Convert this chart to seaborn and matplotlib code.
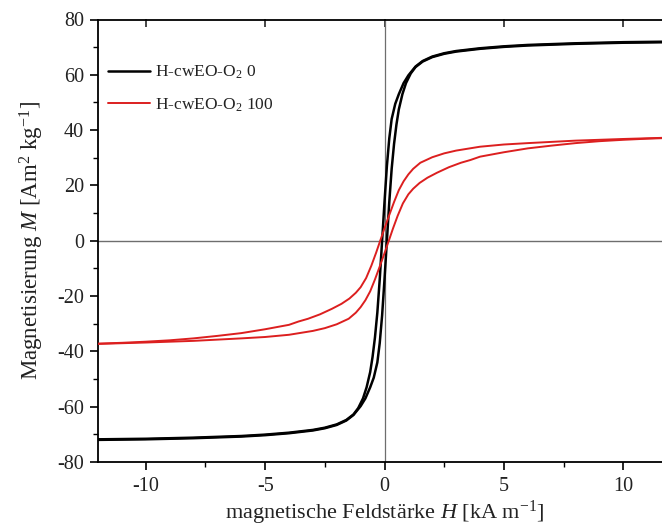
import numpy as np
import pandas as pd
import matplotlib
matplotlib.use("Agg")
import matplotlib.pyplot as plt
from matplotlib.ticker import MultipleLocator
import seaborn as sns

# ---- data ----
series_labels = ["H-cwEO-O$_2$ 0", "H-cwEO-O$_2$ 100"]
series_colors = ["#000000", "#dc1f1f"]

# black: descending branch (from +H to -H)
H_bd = [12, 10, 8, 6, 5, 4, 3, 2.5, 2, 1.6, 1.3, 1.0, 0.8, 0.6, 0.45, 0.3, 0.2, 0.1, 0.0,
        -0.1, -0.2, -0.3, -0.4, -0.5, -0.6, -0.75, -0.9, -1.1, -1.3, -1.6, -2, -2.5, -3,
        -4, -5, -6, -8, -10, -12]
M_bd = [72.0, 71.8, 71.4, 70.8, 70.3, 69.6, 68.6, 67.8, 66.6, 65.0, 63.0, 59.8, 57.0, 53.0,
        49.5, 44.0, 37.0, 27.0, 14.0, 0, -14, -26, -35, -42, -47.5, -53, -57, -60.5, -62.8,
        -64.8, -66.4, -67.6, -68.4, -69.4, -70.1, -70.6, -71.2, -71.6, -71.8]
# black: ascending branch (from -H to +H)
H_ba = [-12, -10, -8, -6, -5, -4, -3, -2.5, -2, -1.6, -1.3, -1.0, -0.8, -0.6, -0.45, -0.3,
        -0.2, -0.1, 0.0, 0.1, 0.2, 0.3, 0.4, 0.5, 0.6, 0.75, 0.9, 1.1, 1.3, 1.6, 2, 2.5, 3,
        4, 5, 6, 8, 10, 12]
M_ba = [-72.0, -71.8, -71.4, -70.8, -70.3, -69.6, -68.6, -67.8, -66.6, -65.0, -63.0, -59.8,
        -57.0, -53.0, -49.5, -44.0, -37.0, -27.0, -14.0, 0, 14, 26, 35, 42, 47.5, 53, 57,
        60.5, 62.8, 64.8, 66.4, 67.6, 68.4, 69.4, 70.1, 70.6, 71.2, 71.6, 71.8]

# red: ascending branch
H_ra = [-12, -10, -8, -6, -5, -4, -3, -2.5, -2, -1.5, -1.2, -1.0, -0.8, -0.6, -0.4, -0.2,
        0.0, 0.18, 0.35, 0.55, 0.77, 1.0, 1.2, 1.47, 1.8, 2.2, 2.7, 3.2, 3.6, 4, 5, 6, 7, 8,
        9, 10, 11, 12]
M_ra = [-37.3, -36.8, -36.2, -35.3, -34.8, -34.0, -32.6, -31.6, -30.2, -28.2, -26.0, -24.0,
        -21.5, -18.3, -14.0, -9.3, -4.5, 0, 4.3, 9.0, 13.5, 16.8, 18.8, 20.9, 22.8, 24.6,
        26.6, 28.2, 29.2, 30.4, 32.0, 33.4, 34.4, 35.3, 36.0, 36.5, 36.9, 37.2]
# red: descending branch
H_rd = [12, 10, 8, 6, 5, 4, 3, 2.5, 2, 1.5, 1.2, 1.0, 0.8, 0.6, 0.4, 0.2, 0.0, -0.18, -0.35,
        -0.55, -0.77, -1.0, -1.2, -1.47, -1.8, -2.2, -2.7, -3.2, -3.6, -4, -5, -6, -7, -8,
        -9, -10, -11, -12]
M_rd = [37.3, 36.8, 36.2, 35.3, 34.8, 34.0, 32.6, 31.6, 30.2, 28.2, 26.0, 24.0, 21.5, 18.3,
        14.0, 9.3, 4.5, 0, -4.3, -9.0, -13.5, -16.8, -18.8, -20.9, -22.8, -24.6, -26.6, -28.2,
        -29.2, -30.4, -32.0, -33.4, -34.4, -35.3, -36.0, -36.5, -36.9, -37.2]

x_ticks = [-10, -5, 0, 5, 10]
y_ticks = [-80, -60, -40, -20, 0, 20, 40, 60, 80]

# ---- build table ----
frames = []
for lab, branches in [(series_labels[0], [("d", H_bd, M_bd), ("a", H_ba, M_ba)]),
                      (series_labels[1], [("d", H_rd, M_rd), ("a", H_ra, M_ra)])]:
    for br, h, m in branches:
        frames.append(pd.DataFrame({"H": h, "M": m, "sample": lab, "branch": br}))
df = pd.concat(frames, ignore_index=True)

sns.set_style("ticks")
plt.rcParams["font.family"] = ["Liberation Serif", "DejaVu Serif"]
plt.rcParams["mathtext.fontset"] = "custom"
plt.rcParams["mathtext.rm"] = "Liberation Serif"
plt.rcParams["mathtext.it"] = "Liberation Serif:italic"
plt.rcParams["axes.unicode_minus"] = False

fig = plt.figure(figsize=(6.62, 5.28), dpi=100)
W, Hpx = 662, 528
ax = fig.add_axes([98 / W, 1 - 462 / Hpx, (671 - 98) / W, (462 - 19.5) / Hpx])

ax.axhline(0, color="#6e6e6e", lw=1.0, zorder=1)
ax.axvline(0, color="#6e6e6e", lw=0.9, zorder=1)

lws = {series_labels[0]: 1.8, series_labels[1]: 1.4}
for i, lab in enumerate(series_labels):
    for br in ["d", "a"]:
        sub = df[(df["sample"] == lab) & (df["branch"] == br)]
        sns.lineplot(data=sub, x="H", y="M", sort=False, estimator=None, ax=ax,
                     color=series_colors[i], lw=lws[lab],
                     label=lab if br == "d" else None, zorder=3)

ax.set_xlim(-12, 12)
ax.set_ylim(-80, 80)
ax.set_xticks(x_ticks)
ax.set_yticks(y_ticks)
ax.xaxis.set_minor_locator(MultipleLocator(2.5))
ax.yaxis.set_minor_locator(MultipleLocator(10))
ax.tick_params(which="major", direction="out", length=6, width=1.2, labelsize=14.5,
               color="black", labelcolor="#222222", pad=4)
ax.tick_params(axis="x", which="major", pad=5)
ax.tick_params(which="minor", direction="out", length=3.5, width=1.0, color="black")
for s in ["left", "bottom", "top"]:
    ax.spines[s].set_linewidth(1.3)
    ax.spines[s].set_color("black")
ax.spines["right"].set_visible(False)

sec = ax.secondary_xaxis("top")
sec.set_xticks(x_ticks)
sec.tick_params(direction="in", length=6, width=1.2, labeltop=False)
sec.spines["top"].set_visible(False)

ax.set_xlabel("magnetische Feldstärke $H$ [kA m$^{-1}$]", fontsize=16, color="#222222",
              labelpad=2)
ax.set_ylabel("Magnetisierung $M$ [Am$^2$ kg$^{-1}$]", fontsize=16.5, color="#222222",
              labelpad=8)

leg = ax.legend(loc="upper left", bbox_to_anchor=(108 / W, 1 - 64 / Hpx),
                bbox_transform=fig.transFigure, frameon=False, fontsize=12.5,
                handlelength=2.4, handletextpad=0.3, labelspacing=0.85, borderpad=0,
                borderaxespad=0)
for t in leg.get_texts():
    t.set_color("#222222")

fig.savefig("out.png", dpi=100)
